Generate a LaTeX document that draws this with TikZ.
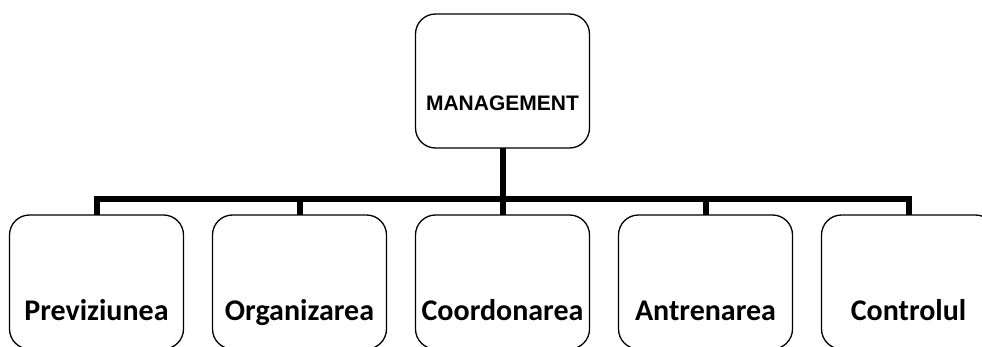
\documentclass[tikz,border=0pt]{standalone}
\usepackage{fontspec}
\setmainfont{Carlito}
\newfontfamily\headfont{Liberation Sans}
\tikzset{
  box/.style = {draw, line width=1.3pt, rounded corners=20pt,
    minimum width=174pt, inner sep=0pt, outer sep=0pt,
    text height=105pt, text depth=29pt,
    font=\fontsize{30}{32}\selectfont\bfseries},
  topbox/.style = {box, text height=96pt, text depth=38pt,
    font=\headfont\fontsize{21}{24}\selectfont\bfseries},
  conn/.style = {line width=6pt}
}

\begin{document}
\begin{tikzpicture}[x=1pt,y=1pt]
  \clip (0,0) rectangle (982,346);
  \node[topbox,anchor=north] (mgmt) at (502.5,332) {MANAGEMENT};
  \coordinate (bar) at (502.5,147);
  \foreach \name [count=\i] in {Previziunea,Organizarea,Coordonarea,Antrenarea,Controlul} {
    \node[box,anchor=north] (c\i) at ({96.5+203*(\i-1)},131) {\name};
    \draw[conn] (mgmt.south) -- (bar) -| (c\i.north);
  }
\end{tikzpicture}
\end{document}
